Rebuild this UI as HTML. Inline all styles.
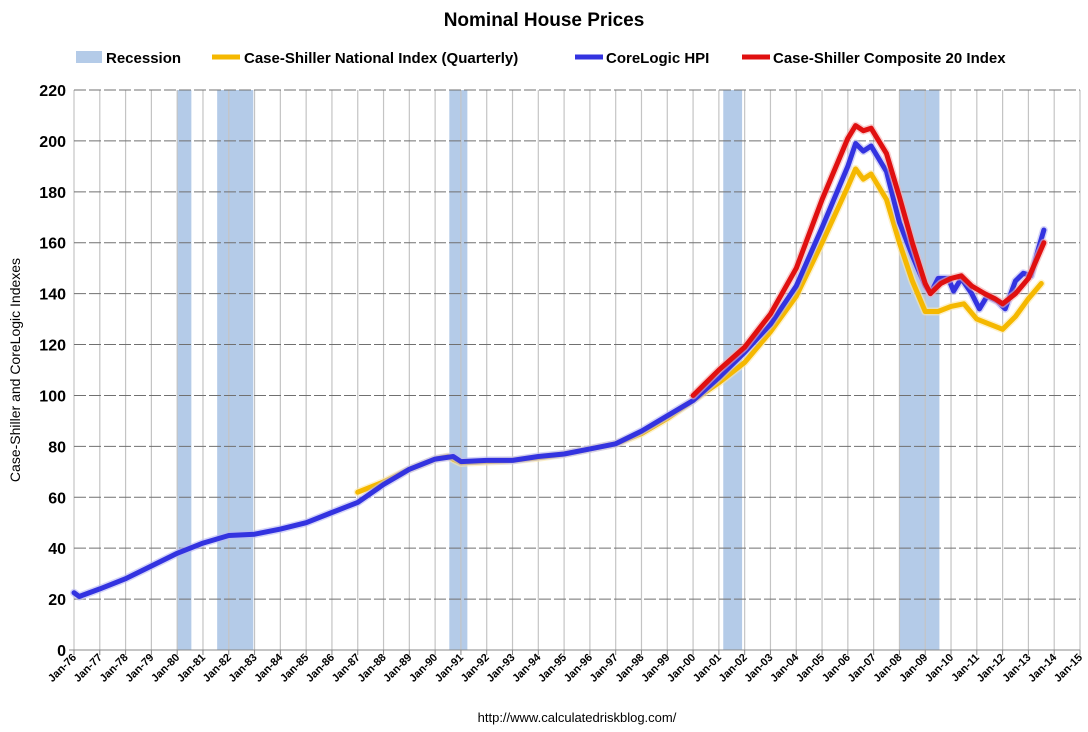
<!DOCTYPE html>
<html><head><meta charset="utf-8"><style>
body{margin:0;background:#fff;font-family:"Liberation Sans",sans-serif;}
svg text{font-family:"Liberation Sans",sans-serif;}
</style></head><body>
<svg id="c" width="1088" height="727" viewBox="0 0 1088 727">
<text x="544" y="26" text-anchor="middle" font-size="19" font-weight="bold">Nominal House Prices</text>
<g>
<g><rect x="76" y="51" width="26" height="12" fill="#b4cbe8"/><text x="106" y="63" font-size="15" font-weight="bold">Recession</text></g>
<g><line x1="212" y1="57" x2="240" y2="57" stroke="#f5b800" stroke-width="5"/><text x="244" y="63" font-size="15" font-weight="bold">Case-Shiller National Index (Quarterly)</text></g>
<g><line x1="575" y1="57" x2="603" y2="57" stroke="#3333e0" stroke-width="5"/><text x="606" y="63" font-size="15" font-weight="bold">CoreLogic HPI</text></g>
<g><line x1="742" y1="57" x2="770" y2="57" stroke="#e01010" stroke-width="5"/><text x="773" y="63" font-size="15" font-weight="bold">Case-Shiller Composite 20 Index</text></g>
</g>
<g id="rec"></g><g id="grid"></g><g id="series"></g><g id="axes"></g>
<text transform="translate(20,370) rotate(-90)" text-anchor="middle" font-size="14">Case-Shiller and CoreLogic Indexes</text>
<text x="577" y="722" text-anchor="middle" font-size="13">http://www.calculatedriskblog.com/</text>
</svg>
<script>
const yTicks=[0,20,40,60,80,100,120,140,160,180,200,220];
const xYears=[1976,1977,1978,1979,1980,1981,1982,1983,1984,1985,1986,1987,1988,1989,1990,1991,1992,1993,1994,1995,1996,1997,1998,1999,2000,2001,2002,2003,2004,2005,2006,2007,2008,2009,2010,2011,2012,2013,2014,2015];
const recessionStart=[1980.0,1981.55,1990.55,2001.17,2008.0];
const recessionEnd=[1980.55,1982.95,1991.25,2001.9,2009.55];
const coreYears=[1976,1976.2,1977,1978,1979,1980,1981,1982,1983,1984,1985,1986,1987,1988,1989,1990,1990.7,1991,1992,1993,1994,1995,1996,1997,1998,1999,2000,2001,2002,2003,2004,2005,2006,2006.3,2006.6,2006.9,2007.5,2008,2008.5,2009,2009.2,2009.5,2009.9,2010.1,2010.4,2010.8,2011.1,2011.4,2011.8,2012.1,2012.5,2012.8,2013.1,2013.4,2013.6];
const coreVals=[22.5,21,24,28,33,38,42,45,45.5,47.5,50,54,58,65,71,75,76,74,74.5,74.5,76,77,79,81,86,92,98,107,117,128,143,166,190,199,196,198,188,168,155,143,140,146,146,141,146,140,134,139,137,134,145,148,147,158,165];
const compYears=[2000,2001,2002,2003,2004,2005,2006,2006.3,2006.6,2006.9,2007.5,2008,2008.5,2009,2009.2,2009.6,2010,2010.4,2010.8,2011.3,2011.7,2012,2012.5,2013,2013.6];
const compVals=[100,110,119,132,150,177,201,206,204,205,195,178,160,144,140,144,146,147,143,140,138,136,140,146,160];
const natYears=[1987,1988,1989,1990,1990.5,1991,1992,1993,1994,1995,1996,1997,1998,1999,2000,2001,2002,2003,2004,2005,2006,2006.3,2006.6,2006.9,2007.5,2008,2008.5,2009,2009.5,2010,2010.5,2011,2011.5,2012,2012.5,2013,2013.5];
const natVals=[62,66,71,75,76,73.5,74,74.5,75.5,77,79,81,85,91,98,105,113,125,139,160,182,189,185,187,177,160,145,133,133,135,136,130,128,126,131,138,144];

const X0=74,X1=1080,Y0=650,Y1=90;
const xs=y=>X0+(y-1976)*(X1-X0)/39;
const ys=v=>Y0-v*(Y0-Y1)/220;
const NS='http://www.w3.org/2000/svg';
function mk(t,a,p){const e=document.createElementNS(NS,t);for(const k in a)e.setAttribute(k,a[k]);p.appendChild(e);return e;}
const rec=document.getElementById('rec'),grid=document.getElementById('grid'),ser=document.getElementById('series'),ax=document.getElementById('axes');
recessionStart.forEach((s,i)=>{
 const r=mk('rect',{x:xs(s),y:Y1,width:xs(recessionEnd[i])-xs(s),height:Y0-Y1,fill:'#b4cbe8'},rec);
 
 
});
xYears.forEach(y=>{
 const l=mk('line',{x1:xs(y),x2:xs(y),y1:Y1,y2:Y0,stroke:'#c4c4c4','stroke-width':1.2},grid);
 
 
 const tk=mk('line',{x1:xs(y),x2:xs(y),y1:Y0,y2:Y0+5,stroke:'#888'},ax);
 
 
 const t=mk('text',{'font-size':11,'font-weight':'bold','text-anchor':'end',transform:`translate(${xs(y)+3},${Y0+8}) rotate(-45)`},ax);
 t.textContent='Jan-'+String(y%100).padStart(2,'0');
 
 
});
yTicks.forEach(v=>{
 if(v>0){const l=mk('line',{x1:X0,x2:X1,y1:ys(v),y2:ys(v),stroke:'#707070','stroke-dasharray':'12,3','stroke-width':1},grid);
 
 }
 const t=mk('text',{x:X0-8,y:ys(v)+6,'font-size':16,'font-weight':'bold','text-anchor':'end'},ax);
 t.textContent=v;
 
 
});
const a1=mk('line',{x1:X0-5,x2:X1,y1:Y0,y2:Y0,stroke:'#888'},ax);


function line(xsArr,vs,col,halo,name){
 const d=xsArr.map((y,i)=>(i?'L':'M')+xs(y).toFixed(1)+','+ys(vs[i]).toFixed(1)).join('');
 mk('path',{d:d,fill:'none',stroke:halo,'stroke-width':8,'stroke-linejoin':'round','stroke-linecap':'round',opacity:0.6},ser);
 const p=mk('path',{d:d,fill:'none',stroke:col,'stroke-width':5,'stroke-linejoin':'round','stroke-linecap':'round'},ser);
 
 
}
line(natYears,natVals,'#f5b800','#fbe7a8','case-shiller-national-line');
line(coreYears,coreVals,'#3333e0','#b9b9f3','corelogic-line');
line(compYears,compVals,'#e01010','#f3b0b0','composite-20-line');
</script>
</body></html>
